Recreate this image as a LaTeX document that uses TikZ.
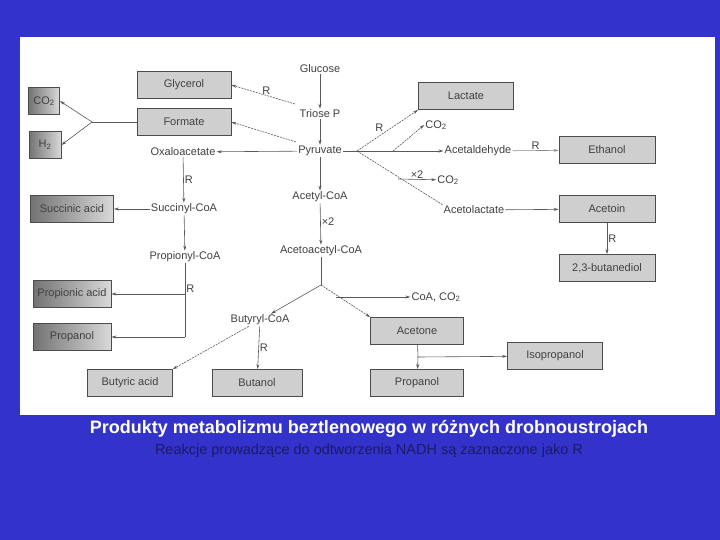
\documentclass[tikz,border=0pt]{standalone}
\usepackage{fontspec}
\setmainfont{Liberation Sans}
\usetikzlibrary{arrows.meta}
\definecolor{bgblue}{HTML}{3333CC}
\definecolor{subcol}{HTML}{1A1A66}
\definecolor{boxfill}{HTML}{CFCFCF}
\begin{document}
\begin{tikzpicture}[x=1pt,y=-1pt,
  lbl/.style={font=\fontsize{11}{12}\selectfont, text=black!75, inner sep=1pt},
  prod/.style={draw=black!70, line width=0.8pt, fill=boxfill, font=\fontsize{11}{12}\selectfont, text=black!75, minimum width=#1, minimum height=27pt, inner sep=1pt},
  prod/.default=94pt,
  dprod/.style={prod=#1, fill=none, left color=black!55, right color=black!15},
  dprod/.default=78pt,
  arr/.style={draw=black!65, line width=0.6pt, -{Stealth[length=5pt,width=3pt]}},
  darr/.style={arr, dash pattern=on 2pt off 1pt},
  ln/.style={draw=black!65, line width=0.6pt},
  rl/.style={font=\fontsize{11}{12}\selectfont, text=black!75, inner sep=1pt}]
\fill[bgblue] (0,0) rectangle (720,540);
\fill[white] (20,37) rectangle (715,415);
\useasboundingbox (0,0) rectangle (720,540);
% main chain
\node[lbl] (glu) at (320,69) {Glucose};
\node[lbl] (tri) at (320,114) {Triose P};
\node[lbl] (pyr) at (320,151) {Pyruvate};
\node[lbl] (acc) at (320,197) {Acetyl-CoA};
\node[lbl] (aac) at (321,251) {Acetoacetyl-CoA};
\node[lbl] (oxa) at (183,152) {Oxaloacetate};
\node[lbl] (suc) at (184,209) {Succinyl-CoA};
\node[lbl] (pro) at (185,257) {Propionyl-CoA};
\node[lbl] (but) at (260,320) {Butyryl-CoA};
\node[lbl] (ald) at (478,151) {Acetaldehyde};
\node[lbl] (alc) at (474,210) {Acetolactate};
\node[lbl] (co2a) at (436,125) {CO\textsubscript{2}};
\node[lbl] (co2b) at (448,180) {CO\textsubscript{2}};
\node[lbl] (coa) at (436,297) {CoA, CO\textsubscript{2}};
% boxes
\node[prod] (gly) at (184,85) {Glycerol};
\node[prod] (for) at (184,122) {Formate};
\node[dprod=31pt] (co2) at (44,101) {CO\textsubscript{2}};
\node[dprod=32pt] (h2) at (45,145) {H\textsubscript{2}};
\node[dprod=83pt] (sua) at (72,209) {Succinic acid};
\node[dprod] (ppa) at (72,294) {Propionic acid};
\node[dprod] (ppl) at (72,337) {Propanol};
\node[prod=85pt] (bua) at (130,383) {Butyric acid};
\node[prod=90pt] (bol) at (257,383) {Butanol};
\node[prod=93pt] (ace) at (417,331) {Acetone};
\node[prod=93pt] (pol) at (417,383) {Propanol};
\node[prod=95pt] (iso) at (555,356) {Isopropanol};
\node[prod=95pt] (lac) at (466,96) {Lactate};
\node[prod=96pt] (eth) at (607,150) {Ethanol};
\node[prod=96pt] (aco) at (607,209) {Acetoin};
\node[prod=96pt] (bdo) at (607,268) {2,3-butanediol};
% coordinates
\coordinate (fb) at (92,122);
\coordinate (pb) at (357,151);
\coordinate (pv) at (185,265);
\coordinate (pd) at (185,337);
\coordinate (pm) at (185,294);
\coordinate (ab) at (321,285);
\coordinate (abr) at (336,297);
\coordinate (acb) at (418,357);
\coordinate (g0) at (295,104);
\coordinate (f0) at (296,142);
\coordinate (c0) at (393,151);
\coordinate (x0) at (398,179);
% arrows
\draw[arr] (glu) -- (tri);
\draw[arr] (tri) -- (pyr);
\draw[arr] (pyr) -- (acc);
\draw[arr] (acc) -- node[rl, right, pos=0.45] {×2} (aac);
\draw[arr] (pyr) -- (oxa);
\draw[arr] (oxa) -- node[rl, right] {R} (suc);
\draw[arr] (suc) -- (sua);
\draw[arr] (suc) -- (pro);
\draw[darr] (g0) -- node[rl, above, pos=0.45] {R} (gly.east);
\draw[darr] (f0) -- (for.east);
\draw[ln] (for) -- (fb);
\draw[arr] (fb) -- (co2.east);
\draw[arr] (fb) -- (h2.east);
\draw[ln] (pyr) -- (pb);
\draw[darr] (pb) -- node[rl, above left, pos=0.45] {R} (lac.south west);
\draw[darr] (c0) -- (co2a.west);
\draw[arr] (pb) -- (ald);
\draw[arr] (x0) -- node[rl, above] {×2} (co2b);
\draw[ln, dash pattern=on 2pt off 1pt] (pb) -- (alc.north west);
\draw[arr, draw=black!45] (ald) -- node[rl, above] {R} (eth);
\draw[arr] (alc) -- (aco);
\draw[arr] (aco) -- node[rl, right] {R} (bdo);
\draw[ln] (pro) -- (pd);
\draw[arr] (pm) -- node[rl, above right, pos=0] {R} (ppa);
\draw[arr] (pd) -- (ppl);
\draw[ln] (aac) -- (ab);
\draw[arr] (ab) -- (but);
\draw[darr] (ab) -- (ace.north west);
\draw[arr] (abr) -- (coa);
\draw[darr] (but) -- (bua.north east);
\draw[arr] (but) -- node[rl, right] {R} (bol);
\draw[ln] (ace) -- (acb);
\draw[arr] (acb) -- (pol);
\draw[arr] (acb) -- (iso);
% captions
\node[text=white, font=\fontsize{18}{20}\selectfont\bfseries] (cap) at (369,429) {Produkty metabolizmu beztlenowego w różnych drobnoustrojach};
\node[text=subcol, font=\fontsize{14.5}{16}\selectfont] (sub) at (369,451) {Reakcje prowadzące do odtworzenia NADH są zaznaczone jako R};
\end{tikzpicture}
\end{document}
